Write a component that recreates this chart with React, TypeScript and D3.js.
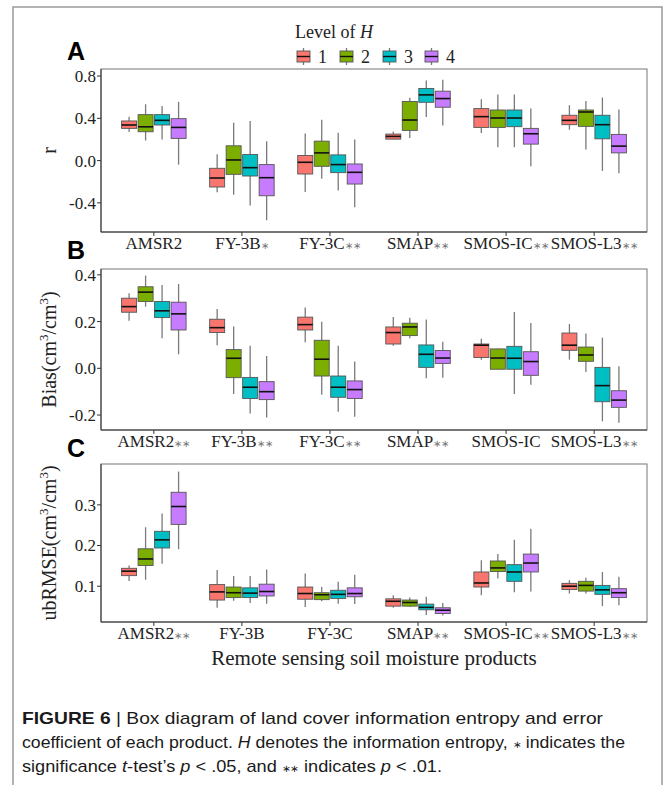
import React from "react";
import * as d3 from "d3";

const categories = ["AMSR2", "FY-3B", "FY-3C", "SMAP", "SMOS-IC", "SMOS-L3"];
const levels = ["1", "2", "3", "4"];
const levelColors = ["#F8766D", "#7CAE00", "#00BFC4", "#C77CFF"];

const sigA = ["", "*", "**", "**", "**", "**"];
const sigB = ["**", "**", "**", "**", "", "**"];
const sigC = ["**", "", "", "**", "**", "**"];

// [min, q1, median, q3, max] per category, per level
const rStats = [
  [[0.27, 0.305, 0.337, 0.375, 0.416], [0.19, 0.273, 0.32, 0.435, 0.533], [0.2, 0.337, 0.381, 0.435, 0.517], [-0.038, 0.21, 0.314, 0.397, 0.556]],
  [[-0.3, -0.25, -0.165, -0.073, 0.06], [-0.324, -0.13, 0.006, 0.14, 0.359], [-0.425, -0.146, -0.067, 0.057, 0.375], [-0.565, -0.333, -0.162, -0.038, 0.184]],
  [[-0.298, -0.127, -0.016, 0.048, 0.257], [-0.171, -0.054, 0.073, 0.184, 0.387], [-0.283, -0.114, -0.038, 0.054, 0.263], [-0.441, -0.222, -0.111, -0.032, 0.2]],
  [[0.2, 0.203, 0.229, 0.251, 0.276], [0.213, 0.286, 0.384, 0.559, 0.594], [0.413, 0.552, 0.622, 0.683, 0.759], [0.333, 0.505, 0.587, 0.657, 0.765]],
  [[0.26, 0.314, 0.416, 0.492, 0.581], [0.127, 0.314, 0.403, 0.479, 0.625], [0.127, 0.321, 0.403, 0.479, 0.625], [-0.054, 0.156, 0.254, 0.305, 0.492]],
  [[0.292, 0.34, 0.381, 0.429, 0.524], [0.105, 0.324, 0.46, 0.479, 0.565], [-0.098, 0.206, 0.34, 0.429, 0.597], [-0.121, 0.073, 0.137, 0.248, 0.483]],
];

const biasStats = [
  [[0.204, 0.24, 0.264, 0.3, 0.321], [0.264, 0.286, 0.326, 0.349, 0.397], [0.129, 0.217, 0.246, 0.286, 0.357], [0.06, 0.164, 0.233, 0.283, 0.361]],
  [[0.099, 0.153, 0.174, 0.21, 0.254], [-0.11, -0.04, 0.043, 0.08, 0.179], [-0.193, -0.129, -0.081, -0.039, 0.097], [-0.21, -0.134, -0.1, -0.057, 0.053]],
  [[0.111, 0.164, 0.187, 0.219, 0.26], [-0.113, -0.033, 0.039, 0.12, 0.199], [-0.186, -0.124, -0.081, -0.033, 0.097], [-0.207, -0.129, -0.091, -0.054, 0.029]],
  [[0.097, 0.104, 0.153, 0.177, 0.22], [0.129, 0.14, 0.177, 0.193, 0.216], [-0.043, 0.004, 0.06, 0.1, 0.209], [-0.04, 0.021, 0.044, 0.076, 0.114]],
  [[0.037, 0.046, 0.099, 0.104, 0.126], [-0.006, -0.004, 0.044, 0.083, 0.085], [-0.11, -0.004, 0.043, 0.094, 0.241], [-0.07, -0.03, 0.029, 0.071, 0.194]],
  [[0.037, 0.077, 0.099, 0.151, 0.19], [-0.016, 0.03, 0.057, 0.091, 0.149], [-0.227, -0.143, -0.074, 0.004, 0.131], [-0.233, -0.167, -0.136, -0.096, 0.009]],
];

const ubrmseStats = [
  [[0.113, 0.126, 0.137, 0.144, 0.151], [0.116, 0.151, 0.167, 0.192, 0.245], [0.155, 0.194, 0.214, 0.235, 0.279], [0.191, 0.252, 0.296, 0.331, 0.382]],
  [[0.047, 0.066, 0.086, 0.104, 0.14], [0.064, 0.072, 0.084, 0.098, 0.125], [0.059, 0.072, 0.083, 0.096, 0.125], [0.057, 0.076, 0.087, 0.105, 0.141]],
  [[0.049, 0.068, 0.082, 0.098, 0.131], [0.063, 0.067, 0.079, 0.084, 0.098], [0.057, 0.07, 0.08, 0.09, 0.111], [0.056, 0.074, 0.082, 0.096, 0.128]],
  [[0.047, 0.051, 0.063, 0.069, 0.078], [0.049, 0.051, 0.06, 0.066, 0.072], [0.029, 0.042, 0.048, 0.056, 0.074], [0.028, 0.033, 0.041, 0.047, 0.059]],
  [[0.078, 0.098, 0.108, 0.135, 0.164], [0.119, 0.136, 0.145, 0.162, 0.179], [0.085, 0.112, 0.135, 0.153, 0.214], [0.087, 0.135, 0.157, 0.179, 0.241]],
  [[0.082, 0.092, 0.1, 0.107, 0.115], [0.082, 0.088, 0.102, 0.112, 0.121], [0.051, 0.08, 0.091, 0.102, 0.135], [0.053, 0.072, 0.084, 0.094, 0.123]],
];

const ticksA = [-0.4, 0.0, 0.4, 0.8];
const ticksB = [-0.2, 0.0, 0.2, 0.4];
const ticksC = [0.1, 0.2, 0.3];

const SERIF = "'Liberation Serif', 'Times New Roman', serif";
const SANS = "'Liberation Sans', Arial, sans-serif";

const X0 = 101;
const X1 = 647;

const xScale = d3.scalePoint<string>().domain(categories).range([X0, X1]).padding(0.6);
const DODGE = 16.5;
const BOXW = 15;

type PanelProps = {
  stats: number[][][];
  sig: string[];
  ticks: number[];
  domain: [number, number];
  top: number;
  bottom: number;
  letter: string;
  letterY: number;
  title: React.ReactNode;
};

function Panel({ stats, sig, ticks, domain, top, bottom, letter, letterY, title }: PanelProps) {
  const y = d3.scaleLinear().domain(domain).range([bottom, top]);
  const fmt = (v: number) => d3.format(".1f")(v).replace("\u2212", "-");
  const midY = (top + bottom) / 2;
  return (
    <g>
      <text x={67} y={letterY} fontFamily={SANS} fontWeight="bold" fontSize={25} fill="#000">{letter}</text>
      <rect x={X0} y={top} width={X1 - X0} height={bottom - top} fill="#fff" stroke="#777" strokeWidth={1} />
      {categories.map((c, ci) => (
        <g key={c}>
          {levels.map((lv, li) => {
            const s = stats[ci][li];
            const cx = (xScale(c) as number) + (li - 1.5) * DODGE;
            return (
              <g key={lv}>
                <line x1={cx} x2={cx} y1={y(s[4])} y2={y(s[3])} stroke="#7a7a7a" strokeWidth={1.3} />
                <line x1={cx} x2={cx} y1={y(s[1])} y2={y(s[0])} stroke="#7a7a7a" strokeWidth={1.3} />
                <rect x={cx - BOXW / 2} y={y(s[3])} width={BOXW} height={Math.max(0.5, y(s[1]) - y(s[3]))}
                  fill={levelColors[li]} stroke="#555" strokeWidth={0.9} />
                <line x1={cx - BOXW / 2} x2={cx + BOXW / 2} y1={y(s[2])} y2={y(s[2])} stroke="#111" strokeWidth={1.6} />
              </g>
            );
          })}
        </g>
      ))}
      <line x1={X0} x2={X0} y1={top} y2={bottom} stroke="#333" strokeWidth={1} />
      <line x1={X0} x2={X1} y1={bottom} y2={bottom} stroke="#333" strokeWidth={1} />
      {ticks.map((t) => (
        <g key={t}>
          <line x1={X0 - 4} x2={X0} y1={y(t)} y2={y(t)} stroke="#333" strokeWidth={1} />
          <text x={X0 - 5} y={y(t)} dy="0.35em" textAnchor="end" fontFamily={SERIF} fontSize={17} fill="#222">{fmt(t)}</text>
        </g>
      ))}
      {categories.map((c, ci) => (
        <g key={"xl" + c}>
          <line x1={xScale(c) as number} x2={xScale(c) as number} y1={bottom} y2={bottom + 4} stroke="#333" strokeWidth={1} />
          <text x={xScale(c) as number} y={bottom + 17} textAnchor="middle" fontFamily={SERIF} fontSize={17} fill="#222">
            {c}
            {sig[ci] ? <tspan fontSize={10} fill="#777">{sig[ci].replace(/\*/g, "\u2217")}</tspan> : null}
          </text>
        </g>
      ))}
      <text transform={`translate(56,${midY}) rotate(-90)`} textAnchor="middle" fontFamily={SERIF} fontSize={20} fill="#222">
        {title}
      </text>
    </g>
  );
}

function Units({ name }: { name: string }) {
  return (
    <>
      {name}(cm<tspan fontSize={13} dy={-8}>3</tspan><tspan dy={8}>/cm</tspan><tspan fontSize={13} dy={-8}>3</tspan><tspan dy={8}>)</tspan>
    </>
  );
}

function Legend() {
  const keyX = [297, 340, 383, 425];
  return (
    <g>
      <text x={295} y={38} fontFamily={SERIF} fontSize={18} fill="#222">
        Level of <tspan fontStyle="italic">H</tspan>
      </text>
      {levels.map((lv, i) => (
        <g key={lv}>
          <line x1={keyX[i] + 6.5} x2={keyX[i] + 6.5} y1={48} y2={65} stroke="#7a7a7a" strokeWidth={1.3} />
          <rect x={keyX[i]} y={51} width={13} height={11} fill={levelColors[i]} stroke="#555" strokeWidth={0.9} />
          <line x1={keyX[i]} x2={keyX[i] + 13} y1={56.5} y2={56.5} stroke="#111" strokeWidth={1.4} />
          <text x={keyX[i] + 21} y={63} fontFamily={SERIF} fontSize={18} fill="#222">{lv}</text>
        </g>
      ))}
    </g>
  );
}

export default function App() {
  const capY = [724, 748, 772];
  return (
    <svg width={665} height={785} style={{ position: "absolute", left: 0, top: 0, background: "#fff" }}>
      <rect x={0} y={0} width={665} height={785} fill="#fff" />
      <path d="M13,790 L13,7 L662,7 L662,790" fill="none" stroke="#9a9a9a" strokeWidth={1.5} />
      <Legend />
      <Panel stats={rStats} sig={sigA} ticks={ticksA} domain={[-0.676, 0.867]} top={69} bottom={232}
        letter="A" letterY={60} title="r" />
      <Panel stats={biasStats} sig={sigB} ticks={ticksB} domain={[-0.264, 0.425]} top={269} bottom={430}
        letter="B" letterY={259} title={<Units name="Bias" />} />
      <Panel stats={ubrmseStats} sig={sigC} ticks={ticksC} domain={[0.012, 0.4005]} top={464} bottom={622}
        letter="C" letterY={457} title={<Units name="ubRMSE" />} />
      <text x={374} y={665} textAnchor="middle" fontFamily={SERIF} fontSize={21} fill="#222">
        Remote sensing soil moisture products
      </text>
      <text x={22} y={capY[0]} fontFamily={SANS} fontSize={17} fill="#1a1a1a" textLength={581} lengthAdjust="spacingAndGlyphs">
        <tspan fontWeight="bold">FIGURE 6</tspan> | Box diagram of land cover information entropy and error
      </text>
      <text x={22} y={capY[1]} fontFamily={SANS} fontSize={17} fill="#1a1a1a" textLength={603} lengthAdjust="spacingAndGlyphs">
        coefficient of each product. <tspan fontStyle="italic">H</tspan> denotes the information entropy, <tspan fontSize={10}>{"\u2217"}</tspan> indicates the
      </text>
      <text x={22} y={capY[2]} fontFamily={SANS} fontSize={17} fill="#1a1a1a" textLength={420} lengthAdjust="spacingAndGlyphs">
        significance <tspan fontStyle="italic">t</tspan>-test{"\u2019"}s <tspan fontStyle="italic">p</tspan> {"<"} .05, and <tspan fontSize={10}>{"\u2217\u2217"}</tspan> indicates <tspan fontStyle="italic">p</tspan> {"<"} .01.
      </text>
    </svg>
  );
}
